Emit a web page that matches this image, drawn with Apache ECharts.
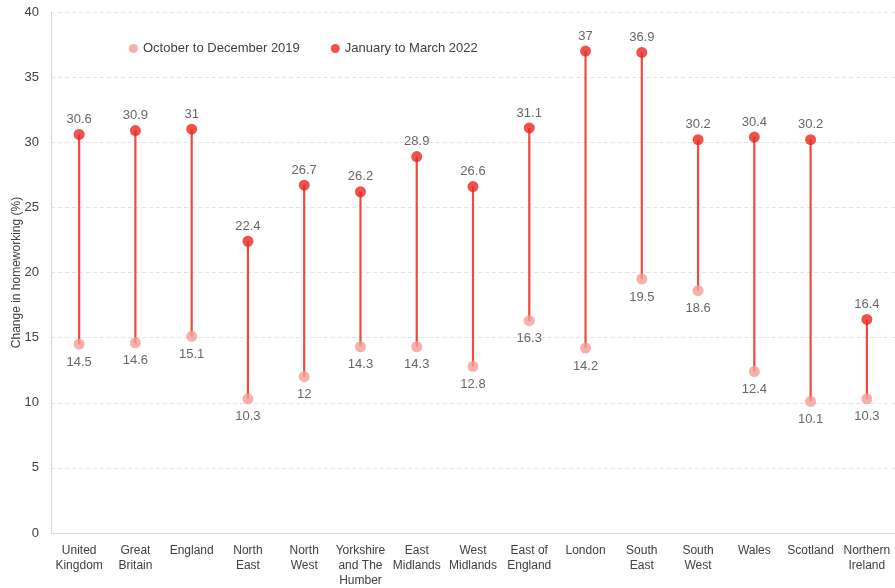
<!DOCTYPE html>
<html>
<head>
<meta charset="utf-8">
<script src="https://cdn.jsdelivr.net/npm/echarts@6/dist/echarts.min.js"></script>
<style>
  html, body { margin: 0; padding: 0; background: #fff; }
  #chart { width: 895px; height: 588px; }
</style>
</head>
<body>
<div id="chart"></div>
<script>
// Regions along the x axis
const regions = [
  'United\nKingdom', 'Great\nBritain', 'England', 'North\nEast', 'North\nWest',
  'Yorkshire\nand The\nHumber', 'East\nMidlands', 'West\nMidlands', 'East of\nEngland',
  'London', 'South\nEast', 'South\nWest', 'Wales', 'Scotland', 'Northern\nIreland'
];

// Homeworking share, October to December 2019
const oct2019 = [14.5, 14.6, 15.1, 10.3, 12, 14.3, 14.3, 12.8, 16.3, 14.2, 19.5, 18.6, 12.4, 10.1, 10.3];

// Homeworking share, January to March 2022
const jan2022 = [30.6, 30.9, 31, 22.4, 26.7, 26.2, 28.9, 26.6, 31.1, 37, 36.9, 30.2, 30.4, 30.2, 16.4];

// Value axis ticks
const yTicks = [0, 5, 10, 15, 20, 25, 30, 35, 40];

const colorLow = '#f59c95';
const colorHigh = '#e8281f';
const colorStem = '#ef4a40';
const textColor = '#404040';
const font = 'Liberation Sans, Arial, sans-serif';

const chart = echarts.init(document.getElementById('chart'), null, { renderer: 'canvas' });

chart.setOption({
  animation: false,
  textStyle: { fontFamily: font },
  grid: { left: 51, right: 0, top: 12, bottom: 55, containLabel: false, outerBoundsMode: 'none' },
  legend: {
    left: 124,
    top: 37,
    itemGap: 31,
    itemWidth: 9,
    itemHeight: 9,
    textStyle: { color: textColor, fontSize: 13, fontFamily: font },
    data: [
      { name: 'October to December 2019', icon: 'circle' },
      { name: 'January to March 2022', icon: 'circle' }
    ]
  },
  xAxis: {
    type: 'category',
    data: regions,
    boundaryGap: true,
    axisLine: { lineStyle: { color: '#d9d9d9' } },
    axisTick: { show: false },
    axisLabel: { color: textColor, fontSize: 12, fontFamily: font, interval: 0, margin: 10, lineHeight: 15 }
  },
  yAxis: {
    type: 'value',
    min: yTicks[0],
    max: yTicks[yTicks.length - 1],
    interval: 5,
    name: 'Change in homeworking (%)',
    nameLocation: 'middle',
    nameGap: 28,
    nameMoveOverlap: false,
    nameTextStyle: { color: textColor, fontSize: 12, fontFamily: font },
    axisLine: { show: true, lineStyle: { color: '#d9d9d9' } },
    axisTick: { show: false },
    axisLabel: { color: textColor, fontSize: 13, fontFamily: font, margin: 12 },
    splitLine: { lineStyle: { color: '#e3e3e3', type: [4, 3] } }
  },
  series: [
    {
      name: 'stem',
      type: 'custom',
      silent: true,
      z: 1,
      data: regions.map((r, i) => [i, oct2019[i], jan2022[i]]),
      renderItem: function (params, api) {
        const a = api.coord([api.value(0), api.value(1)]);
        const b = api.coord([api.value(0), api.value(2)]);
        return {
          type: 'line',
          shape: { x1: a[0], y1: a[1], x2: b[0], y2: b[1] },
          style: { stroke: colorStem, lineWidth: 2.2 }
        };
      }
    },
    {
      name: 'October to December 2019',
      type: 'scatter',
      z: 3,
      symbol: 'circle',
      symbolSize: 11,
      itemStyle: { color: colorLow },
      data: oct2019,
      label: {
        show: true,
        position: 'bottom',
        distance: 6,
        color: textColor,
        fontSize: 13,
        fontFamily: font
      }
    },
    {
      name: 'January to March 2022',
      type: 'scatter',
      z: 4,
      symbol: 'circle',
      symbolSize: 11,
      itemStyle: { color: colorHigh },
      data: jan2022,
      label: {
        show: true,
        position: 'top',
        distance: 3,
        color: textColor,
        fontSize: 13,
        fontFamily: font
      }
    }
  ]
});
</script>
</body>
</html>
